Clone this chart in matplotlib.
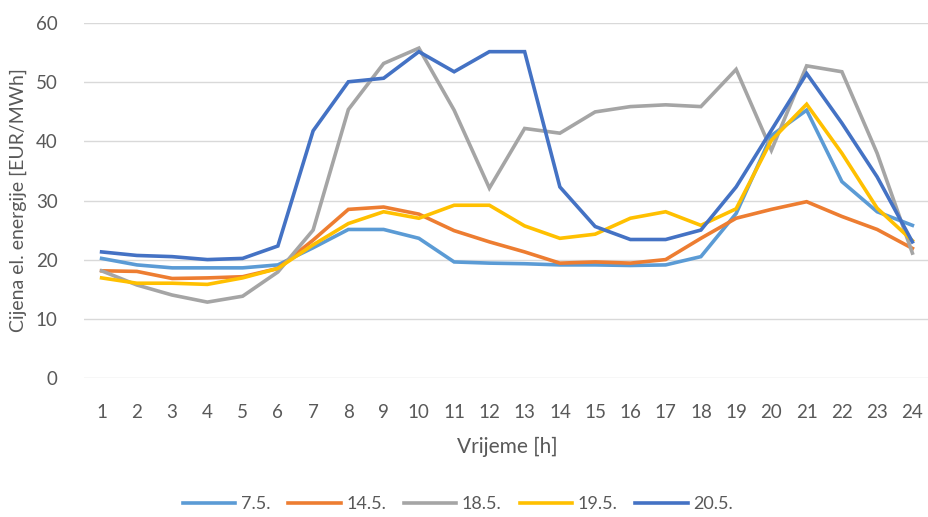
import matplotlib
matplotlib.use("Agg")
import matplotlib.pyplot as plt

hours = list(range(1, 25))

series_names = ["7.5.", "14.5.", "18.5.", "19.5.", "20.5."]
series_colors = ["#5B9BD5", "#ED7D31", "#A5A5A5", "#FFC000", "#4472C4"]

may_7 = [20.2, 19.1, 18.6, 18.6, 18.6, 19.1, 22.0, 25.1, 25.1, 23.6, 19.6, 19.4,
         19.3, 19.1, 19.1, 19.0, 19.1, 20.5, 27.8, 41.0, 45.3, 33.2, 28.1, 25.8]
may_14 = [18.1, 18.0, 16.8, 16.9, 17.1, 18.5, 23.3, 28.5, 28.9, 27.7, 24.9, 23.0,
          21.3, 19.4, 19.6, 19.4, 20.0, 23.6, 27.0, 28.5, 29.8, 27.3, 25.1, 21.9]
may_18 = [18.1, 15.7, 14.0, 12.8, 13.8, 17.9, 25.0, 45.4, 53.2, 55.8, 45.3, 32.1,
          42.2, 41.4, 45.0, 45.9, 46.2, 45.9, 52.2, 38.5, 52.8, 51.8, 38.0, 21.1]
may_19 = [16.9, 16.0, 16.0, 15.8, 16.9, 18.5, 22.5, 26.1, 28.1, 27.0, 29.2, 29.2,
          25.7, 23.6, 24.3, 27.0, 28.1, 25.8, 28.6, 40.2, 46.3, 38.0, 28.7, 23.2]
may_20 = [21.3, 20.7, 20.5, 20.0, 20.2, 22.3, 41.8, 50.1, 50.7, 55.2, 51.8, 55.2,
          55.2, 32.3, 25.6, 23.4, 23.4, 25.0, 32.3, 41.9, 51.5, 43.1, 34.0, 23.0]

all_series = [may_7, may_14, may_18, may_19, may_20]

plt.rcParams['font.family'] = ['Lato', 'DejaVu Sans']
text_color = "#595959"

fig = plt.figure(figsize=(9.29, 5.17), dpi=100)
ax = fig.add_axes([0.0904, 0.2694, 0.9107, 0.6855])

for name, color, values in zip(series_names, series_colors, all_series):
    ax.plot(hours, values, color=color, linewidth=2.6, label=name,
            solid_joinstyle='miter')

ax.set_xlim(0.5, 24.5)
ax.set_ylim(0, 60)
ax.set_yticks(range(0, 61, 10))
ax.set_xticks(hours)
ax.grid(axis='y', color="#D9D9D9", linewidth=1)
ax.set_axisbelow(True)
for side in ['top', 'right', 'left', 'bottom']:
    ax.spines[side].set_visible(False)
ax.tick_params(axis='both', length=0, labelsize=13.5, colors=text_color)
ax.tick_params(axis='y', pad=19)
ax.tick_params(axis='x', pad=19)

ax.set_ylabel("Cijena el. energije [EUR/MWh]", fontsize=14, color=text_color, labelpad=6)
ax.set_xlabel("Vrijeme [h]", fontsize=15, color=text_color, labelpad=11)

fig.legend(loc='center', bbox_to_anchor=(0.493, 0.025), ncol=5, frameon=False,
           fontsize=13, handlelength=2.9, columnspacing=1.0, handletextpad=0.3,
           labelcolor=text_color)

fig.savefig("out.png", dpi=100)
